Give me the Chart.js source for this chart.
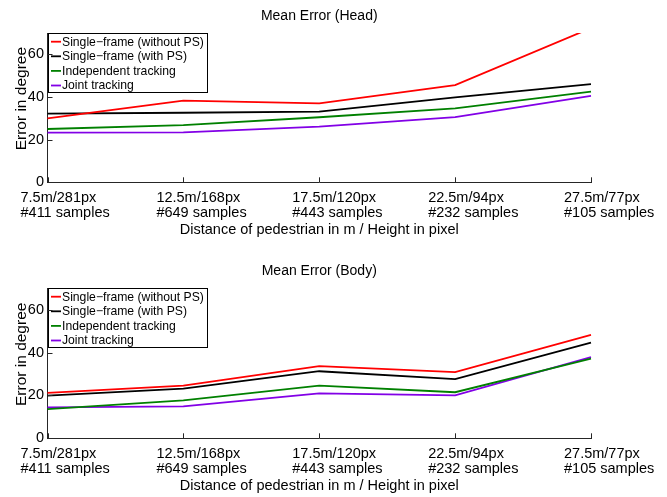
<!DOCTYPE html>
<html><head><meta charset="utf-8">
<script src="https://cdn.jsdelivr.net/npm/chart.js@4.4.1/dist/chart.umd.min.js"></script>
<style>
html,body{margin:0;padding:0;background:#fff;width:667px;height:497px;overflow:hidden}
#c1{position:absolute;left:0;top:0}
#c2{position:absolute;left:0;top:256px}
</style></head><body>
<canvas id="c1" width="667" height="256"></canvas>
<canvas id="c2" width="667" height="241"></canvas>
<script>
// ---- data ----
const categories = ['7.5m/281px', '12.5m/168px', '17.5m/120px', '22.5m/94px', '27.5m/77px'];
const sampleLabels = ['#411 samples', '#649 samples', '#443 samples', '#232 samples', '#105 samples'];
const seriesNames = ['Single\u2212frame (without PS)', 'Single\u2212frame (with PS)', 'Independent tracking', 'Joint tracking'];
const seriesColors = ['#ff0000', '#000000', '#008000', '#8200e6'];
const yTicks = [0, 20, 40, 60];
const yMax = 70;
const xTitle = 'Distance of pedestrian in m / Height in pixel';
const yTitle = 'Error in degree';
const titleHead = 'Mean Error (Head)';
const titleBody = 'Mean Error (Body)';

const headWithoutPS   = [30.0, 38.3, 37.0, 45.6, 72.3];
const headWithPS      = [32.2, 32.6, 33.1, 39.8, 46.0];
const headIndependent = [25.0, 26.8, 30.5, 34.7, 42.5];
const headJoint       = [23.3, 23.4, 26.1, 30.6, 40.5];

const bodyWithoutPS   = [21.2, 24.6, 33.7, 30.9, 48.3];
const bodyWithPS      = [19.9, 23.2, 31.3, 27.6, 44.7];
const bodyIndependent = [13.6, 17.7, 24.6, 21.5, 37.2];
const bodyJoint       = [14.4, 14.9, 21.0, 20.0, 37.9];

// ---- drawing ----
const FONT = '"Liberation Sans", Arial, Helvetica, sans-serif';
const AXIS = '#262626';

const overlay = {
  id: 'overlay',
  afterDatasetsDraw(chart) {
    const ctx = chart.ctx, a = chart.chartArea;
    const bx = Math.round(a.left) + 0.5, by = Math.round(a.top) + 0.5, bw = 159, bh = 59;
    ctx.save();
    ctx.fillStyle = '#fff';
    ctx.fillRect(bx, by, bw, bh);
    ctx.strokeStyle = '#000'; ctx.lineWidth = 1;
    ctx.strokeRect(bx, by, bw, bh);
    ctx.font = '12.2px ' + FONT;
    ctx.textAlign = 'left'; ctx.textBaseline = 'middle';
    chart.data.datasets.forEach((d, i) => {
      const y = by + 8.2 + i * 14.6;
      ctx.strokeStyle = d.borderColor; ctx.lineWidth = 1.8;
      ctx.beginPath(); ctx.moveTo(bx + 2.5, y); ctx.lineTo(bx + 12.5, y); ctx.stroke();
      ctx.fillStyle = '#000';
      ctx.fillText(d.label, bx + 13.5, y + 0.5);
    });
    ctx.restore();
  },
  afterDraw(chart) {
    const ctx = chart.ctx, a = chart.chartArea, xs = chart.scales.x, ys = chart.scales.y;
    const title = chart.options.plugins.overlay.title;
    ctx.save();
    ctx.strokeStyle = AXIS; ctx.lineWidth = 1;
    categories.forEach((c, i) => {
      const px = Math.round(xs.getPixelForValue(i)) + 0.5;
      ctx.beginPath(); ctx.moveTo(px, a.bottom); ctx.lineTo(px, a.bottom - 5); ctx.stroke();
    });
    yTicks.forEach(v => {
      const py = Math.round(ys.getPixelForValue(v)) + 0.5;
      ctx.beginPath(); ctx.moveTo(a.left, py); ctx.lineTo(a.left + 5, py); ctx.stroke();
    });
    ctx.fillStyle = '#000';
    ctx.font = '14.5px ' + FONT;
    ctx.textAlign = 'left'; ctx.textBaseline = 'middle';
    categories.forEach((c, i) => {
      const px = xs.getPixelForValue(i);
      ctx.fillText(c, px - 27, a.bottom + 16);
      ctx.fillText(sampleLabels[i], px - 27, a.bottom + 31);
    });
    ctx.textAlign = 'center';
    ctx.font = '14.5px ' + FONT;
    ctx.fillText(xTitle, (a.left + a.right) / 2, a.bottom + 47.5);
    ctx.font = '14px ' + FONT;
    ctx.fillText(title, (a.left + a.right) / 2, a.top - 17);
    ctx.font = '15.5px ' + FONT;
    ctx.translate(22, (a.top + a.bottom) / 2 - 9);
    ctx.rotate(-Math.PI / 2);
    ctx.fillText(yTitle, 0, 0);
    ctx.restore();
  }
};

function makeChart(id, title, values, canvasH, topPad) {
  const datasets = values.map((vals, i) => ({
    label: seriesNames[i],
    data: vals,
    borderColor: seriesColors[i],
    backgroundColor: seriesColors[i],
    borderWidth: 1.8,
    pointRadius: 0,
    tension: 0,
    fill: false
  }));
  return new Chart(document.getElementById(id), {
    type: 'line',
    data: { labels: categories, datasets },
    plugins: [overlay],
    options: {
      responsive: false,
      animation: false,
      events: [],
      layout: { padding: { top: topPad, left: 0, right: 76, bottom: canvasH - 182.3 } },
      plugins: { legend: { display: false }, tooltip: { enabled: false }, title: { display: false }, overlay: { title } },
      scales: {
        x: {
          type: 'category',
          offset: false,
          grid: { display: false, drawTicks: false },
          border: { display: true, color: AXIS, width: 1 },
          ticks: { display: false },
          afterFit: s => { s.height = 0; s.paddingLeft = 0; s.paddingRight = 0; }
        },
        y: {
          min: 0, max: yMax,
          grid: { display: false, drawTicks: false },
          border: { display: true, color: AXIS, width: 1 },
          afterBuildTicks: s => { s.ticks = yTicks.map(v => ({ value: v })); },
          ticks: { color: '#000', padding: 3.5, font: { family: FONT, size: 14.5 } },
          afterFit: s => { s.width = 47.5; s.paddingTop = 0; s.paddingBottom = 0; }
        }
      }
    }
  });
}

makeChart('c1', titleHead, [headWithoutPS, headWithPS, headIndependent, headJoint], 256, 33);
makeChart('c2', titleBody, [bodyWithoutPS, bodyWithPS, bodyIndependent, bodyJoint], 241, 32.3);
</script>
</body></html>
